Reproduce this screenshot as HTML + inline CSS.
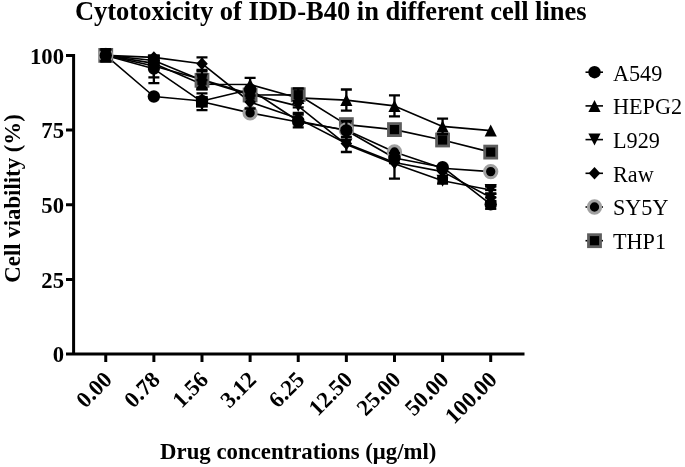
<!DOCTYPE html>
<html><head><meta charset="utf-8"><style>
html,body{margin:0;padding:0;background:#fff;}
svg{display:block;will-change:transform;}
.b{font-family:"Liberation Serif",serif;font-weight:bold;}
.r{font-family:"Liberation Serif",serif;}
</style></head><body>
<svg width="685" height="467" viewBox="0 0 685 467">
<rect width="685" height="467" fill="#fff"/>
<text x="74.9" y="19.7" class="b" font-size="26.5">Cytotoxicity of IDD-B40 in different cell lines</text>
<text x="160.1" y="458.7" class="b" font-size="22.8">Drug concentrations (μg/ml)</text>
<text transform="translate(19.6,282.7) rotate(-90)" class="b" font-size="22.8">Cell viability (%)</text>
<path d="M73.6 53.9V355.5M66 55.4H75M66 130.1H75M66 204.75H75M66 279.4H75M66 354.1H524.5" stroke="#000" stroke-width="3" fill="none"/>
<path d="M105.75 354V362" stroke="#000" stroke-width="3"/>
<path d="M153.87 354V362" stroke="#000" stroke-width="3"/>
<path d="M201.99 354V362" stroke="#000" stroke-width="3"/>
<path d="M250.11 354V362" stroke="#000" stroke-width="3"/>
<path d="M298.23 354V362" stroke="#000" stroke-width="3"/>
<path d="M346.35 354V362" stroke="#000" stroke-width="3"/>
<path d="M394.47 354V362" stroke="#000" stroke-width="3"/>
<path d="M442.59 354V362" stroke="#000" stroke-width="3"/>
<path d="M490.71 354V362" stroke="#000" stroke-width="3"/>
<text x="64" y="63.70" text-anchor="end" class="b" font-size="22.7">100</text>
<text x="64" y="138.40" text-anchor="end" class="b" font-size="22.7">75</text>
<text x="64" y="213.05" text-anchor="end" class="b" font-size="22.7">50</text>
<text x="64" y="287.70" text-anchor="end" class="b" font-size="22.7">25</text>
<text x="64" y="362.40" text-anchor="end" class="b" font-size="22.7">0</text>
<text transform="translate(113.25,381) rotate(-45)" text-anchor="end" class="b" font-size="22.7">0.00</text>
<text transform="translate(161.37,381) rotate(-45)" text-anchor="end" class="b" font-size="22.7">0.78</text>
<text transform="translate(209.49,381) rotate(-45)" text-anchor="end" class="b" font-size="22.7">1.56</text>
<text transform="translate(257.61,381) rotate(-45)" text-anchor="end" class="b" font-size="22.7">3.12</text>
<text transform="translate(305.73,381) rotate(-45)" text-anchor="end" class="b" font-size="22.7">6.25</text>
<text transform="translate(353.85,381) rotate(-45)" text-anchor="end" class="b" font-size="22.7">12.50</text>
<text transform="translate(401.97,381) rotate(-45)" text-anchor="end" class="b" font-size="22.7">25.00</text>
<text transform="translate(450.09,381) rotate(-45)" text-anchor="end" class="b" font-size="22.7">50.00</text>
<text transform="translate(498.21,381) rotate(-45)" text-anchor="end" class="b" font-size="22.7">100.00</text>
<polyline points="105.75,55.40 153.87,60.50 201.99,80.30 250.11,95.00 298.23,94.70 346.35,124.60 394.47,129.60 442.59,140.00 490.71,152.10" fill="none" stroke="#000" stroke-width="1.6" stroke-linejoin="round"/>
<polyline points="105.75,55.40 153.87,68.80 201.99,101.80 250.11,112.90 298.23,122.00 346.35,130.00 394.47,152.00 442.59,168.30 490.71,171.60" fill="none" stroke="#000" stroke-width="1.6" stroke-linejoin="round"/>
<polyline points="105.75,55.40 153.87,57.40 201.99,63.70 250.11,102.00 298.23,118.60 346.35,143.50 394.47,162.50 442.59,171.60 490.71,197.50" fill="none" stroke="#000" stroke-width="1.6" stroke-linejoin="round"/>
<polyline points="105.75,55.40 153.87,66.00 201.99,79.50 250.11,94.10 298.23,106.10 346.35,144.60 394.47,163.80 442.59,180.70 490.71,190.00" fill="none" stroke="#000" stroke-width="1.6" stroke-linejoin="round"/>
<polyline points="105.75,55.40 153.87,63.40 201.99,84.20 250.11,84.50 298.23,97.90 346.35,100.10 394.47,105.90 442.59,126.40 490.71,130.60" fill="none" stroke="#000" stroke-width="1.6" stroke-linejoin="round"/>
<polyline points="105.75,55.40 153.87,96.50 201.99,101.00 250.11,89.50 298.23,121.00 346.35,130.50 394.47,158.00 442.59,167.20 490.71,204.40" fill="none" stroke="#000" stroke-width="1.6" stroke-linejoin="round"/>
<rect x="99.75" y="49.40" width="12" height="12" fill="#000" stroke="#5e5e5e" stroke-width="2.8"/>
<rect x="147.87" y="54.50" width="12" height="12" fill="#000"/>
<rect x="195.99" y="74.30" width="12" height="12" fill="#000" stroke="#5e5e5e" stroke-width="2.8"/>
<rect x="244.11" y="89.00" width="12" height="12" fill="#000" stroke="#5e5e5e" stroke-width="2.8"/>
<rect x="292.23" y="88.70" width="12" height="12" fill="#000" stroke="#5e5e5e" stroke-width="2.8"/>
<rect x="340.35" y="118.60" width="12" height="12" fill="#000" stroke="#5e5e5e" stroke-width="2.8"/>
<rect x="388.47" y="123.60" width="12" height="12" fill="#000" stroke="#5e5e5e" stroke-width="2.8"/>
<rect x="436.59" y="134.00" width="12" height="12" fill="#000" stroke="#5e5e5e" stroke-width="2.8"/>
<rect x="484.71" y="146.10" width="12" height="12" fill="#000" stroke="#5e5e5e" stroke-width="2.8"/>
<circle cx="105.75" cy="55.40" r="6.15" fill="#000" stroke="#a0a0a0" stroke-width="3"/>
<circle cx="153.87" cy="68.80" r="6" fill="#000"/>
<circle cx="201.99" cy="101.80" r="6" fill="#000"/>
<circle cx="250.11" cy="112.90" r="6.15" fill="#000" stroke="#a0a0a0" stroke-width="3"/>
<circle cx="298.23" cy="122.00" r="6" fill="#000"/>
<circle cx="346.35" cy="130.00" r="6.15" fill="#000" stroke="#a0a0a0" stroke-width="3"/>
<circle cx="394.47" cy="152.00" r="6.15" fill="#000" stroke="#a0a0a0" stroke-width="3"/>
<circle cx="442.59" cy="168.30" r="6" fill="#000"/>
<circle cx="490.71" cy="171.60" r="6.15" fill="#000" stroke="#a0a0a0" stroke-width="3"/>
<path d="M105.75 49.20 L111.55 55.40 L105.75 61.60 L99.95 55.40Z" fill="#000"/>
<path d="M153.87 51.20 L159.67 57.40 L153.87 63.60 L148.07 57.40Z" fill="#000"/>
<path d="M201.99 57.50 L207.79 63.70 L201.99 69.90 L196.19 63.70Z" fill="#000"/>
<path d="M250.11 95.80 L255.91 102.00 L250.11 108.20 L244.31 102.00Z" fill="#000"/>
<path d="M298.23 112.40 L304.03 118.60 L298.23 124.80 L292.43 118.60Z" fill="#000"/>
<path d="M346.35 137.30 L352.15 143.50 L346.35 149.70 L340.55 143.50Z" fill="#000"/>
<path d="M394.47 156.30 L400.27 162.50 L394.47 168.70 L388.67 162.50Z" fill="#000"/>
<path d="M442.59 165.40 L448.39 171.60 L442.59 177.80 L436.79 171.60Z" fill="#000"/>
<path d="M490.71 191.30 L496.51 197.50 L490.71 203.70 L484.91 197.50Z" fill="#000"/>
<path d="M105.75 61.40 L111.85 49.40 L99.65 49.40Z" fill="#000"/>
<path d="M153.87 72.00 L159.97 60.00 L147.77 60.00Z" fill="#000"/>
<path d="M201.99 85.50 L208.09 73.50 L195.89 73.50Z" fill="#000"/>
<path d="M250.11 100.10 L256.21 88.10 L244.01 88.10Z" fill="#000"/>
<path d="M298.23 112.10 L304.33 100.10 L292.13 100.10Z" fill="#000"/>
<path d="M346.35 150.60 L352.45 138.60 L340.25 138.60Z" fill="#000"/>
<path d="M394.47 169.80 L400.57 157.80 L388.37 157.80Z" fill="#000"/>
<path d="M442.59 186.70 L448.69 174.70 L436.49 174.70Z" fill="#000"/>
<path d="M490.71 196.00 L496.81 184.00 L484.61 184.00Z" fill="#000"/>
<path d="M105.75 49.40 L111.85 61.40 L99.65 61.40Z" fill="#000"/>
<path d="M153.87 57.40 L159.97 69.40 L147.77 69.40Z" fill="#000"/>
<path d="M201.99 78.20 L208.09 90.20 L195.89 90.20Z" fill="#000"/>
<path d="M250.11 78.50 L256.21 90.50 L244.01 90.50Z" fill="#000"/>
<path d="M298.23 91.90 L304.33 103.90 L292.13 103.90Z" fill="#000"/>
<path d="M346.35 94.10 L352.45 106.10 L340.25 106.10Z" fill="#000"/>
<path d="M394.47 99.90 L400.57 111.90 L388.37 111.90Z" fill="#000"/>
<path d="M442.59 120.40 L448.69 132.40 L436.49 132.40Z" fill="#000"/>
<path d="M490.71 124.60 L496.81 136.60 L484.61 136.60Z" fill="#000"/>
<circle cx="105.75" cy="55.40" r="6.2" fill="#000"/>
<circle cx="153.87" cy="96.50" r="6.2" fill="#000"/>
<circle cx="201.99" cy="101.00" r="6.2" fill="#000"/>
<circle cx="250.11" cy="89.50" r="6.2" fill="#000"/>
<circle cx="298.23" cy="121.00" r="6.2" fill="#000"/>
<circle cx="346.35" cy="130.50" r="6.2" fill="#000"/>
<circle cx="394.47" cy="158.00" r="6.2" fill="#000"/>
<circle cx="442.59" cy="167.20" r="6.2" fill="#000"/>
<circle cx="490.71" cy="204.40" r="6.2" fill="#000"/>
<path d="M201.99 71.30V89.30M196.49 71.30H207.49M196.49 89.30H207.49" stroke="#000" stroke-width="2.3" fill="none"/>
<path d="M346.35 121.10V128.10M340.85 121.10H351.85M340.85 128.10H351.85" stroke="#000" stroke-width="2.3" fill="none"/>
<path d="M153.87 55.60V83.20M148.37 55.60H159.37M148.37 83.20H159.37" stroke="#000" stroke-width="2.3" fill="none"/>
<path d="M201.99 93.40V110.20M196.49 93.40H207.49M196.49 110.20H207.49" stroke="#000" stroke-width="2.3" fill="none"/>
<path d="M201.99 57.40V70.00M196.49 57.40H207.49M196.49 70.00H207.49" stroke="#000" stroke-width="2.3" fill="none"/>
<path d="M250.11 95.50V108.50M244.61 95.50H255.61M244.61 108.50H255.61" stroke="#000" stroke-width="2.3" fill="none"/>
<path d="M298.23 113.00V124.20M292.73 113.00H303.73M292.73 124.20H303.73" stroke="#000" stroke-width="2.3" fill="none"/>
<path d="M490.71 193.80V201.20M485.21 193.80H496.21M485.21 201.20H496.21" stroke="#000" stroke-width="2.3" fill="none"/>
<path d="M105.75 49.10V61.70M100.25 49.10H111.25M100.25 61.70H111.25" stroke="#000" stroke-width="2.3" fill="none"/>
<path d="M153.87 66.00V77.40M148.37 77.40H159.37" stroke="#000" stroke-width="2.3" fill="none"/>
<path d="M346.35 137.20V152.00M340.85 137.20H351.85M340.85 152.00H351.85" stroke="#000" stroke-width="2.3" fill="none"/>
<path d="M394.47 163.80V178.70M388.97 178.70H399.97" stroke="#000" stroke-width="2.3" fill="none"/>
<path d="M442.59 177.70V183.70M437.09 177.70H448.09M437.09 183.70H448.09" stroke="#000" stroke-width="2.3" fill="none"/>
<path d="M490.71 186.30V193.70M485.21 186.30H496.21M485.21 193.70H496.21" stroke="#000" stroke-width="2.3" fill="none"/>
<path d="M153.87 63.40V63.40" stroke="#000" stroke-width="2.3" fill="none"/>
<path d="M201.99 80.20V88.20M196.49 80.20H207.49M196.49 88.20H207.49" stroke="#000" stroke-width="2.3" fill="none"/>
<path d="M250.11 77.80V91.20M244.61 77.80H255.61M244.61 91.20H255.61" stroke="#000" stroke-width="2.3" fill="none"/>
<path d="M298.23 88.50V107.30M292.73 88.50H303.73M292.73 107.30H303.73" stroke="#000" stroke-width="2.3" fill="none"/>
<path d="M346.35 89.50V110.70M340.85 89.50H351.85M340.85 110.70H351.85" stroke="#000" stroke-width="2.3" fill="none"/>
<path d="M394.47 95.40V116.40M388.97 95.40H399.97M388.97 116.40H399.97" stroke="#000" stroke-width="2.3" fill="none"/>
<path d="M442.59 118.60V134.20M437.09 118.60H448.09M437.09 134.20H448.09" stroke="#000" stroke-width="2.3" fill="none"/>
<path d="M298.23 114.70V127.30M292.73 114.70H303.73M292.73 127.30H303.73" stroke="#000" stroke-width="2.3" fill="none"/>
<path d="M394.47 153.00V163.00M388.97 153.00H399.97M388.97 163.00H399.97" stroke="#000" stroke-width="2.3" fill="none"/>
<rect x="196" y="96.1" width="11.8" height="11.5" fill="#000"/>
<rect x="437.4" y="177.9" width="10.6" height="5.9" fill="#000"/>
<path d="M485.11 186.3H496.31" stroke="#000" stroke-width="2.3"/>
<path d="M485.11 190.0H496.31" stroke="#000" stroke-width="2.3"/>
<path d="M485.11 193.7H496.31" stroke="#000" stroke-width="2.3"/>
<path d="M485.11 197.4H496.31" stroke="#000" stroke-width="2.3"/>
<path d="M485.11 201.0H496.31" stroke="#000" stroke-width="2.3"/>
<path d="M485.11 208.8H496.31" stroke="#000" stroke-width="2.3"/>
<path d="M490.71 186V209" stroke="#000" stroke-width="3"/>
<path d="M585.5 72.20H603" stroke="#000" stroke-width="1.6"/>
<circle cx="594.50" cy="72.20" r="6.2" fill="#000"/>
<text x="613" y="80.50" class="r" font-size="22.2">A549</text>
<path d="M585.5 105.90H603" stroke="#000" stroke-width="1.6"/>
<path d="M594.50 99.90 L600.60 111.90 L588.40 111.90Z" fill="#000"/>
<text x="613" y="114.20" class="r" font-size="22.2">HEPG2</text>
<path d="M585.5 139.60H603" stroke="#000" stroke-width="1.6"/>
<path d="M594.50 145.60 L600.60 133.60 L588.40 133.60Z" fill="#000"/>
<text x="613" y="147.90" class="r" font-size="22.2">L929</text>
<path d="M585.5 173.30H603" stroke="#000" stroke-width="1.6"/>
<path d="M594.50 167.10 L600.30 173.30 L594.50 179.50 L588.70 173.30Z" fill="#000"/>
<text x="613" y="181.60" class="r" font-size="22.2">Raw</text>
<path d="M585.5 207.00H603" stroke="#000" stroke-width="1.6"/>
<circle cx="594.50" cy="207.00" r="6.15" fill="#000" stroke="#a0a0a0" stroke-width="3"/>
<text x="613" y="215.30" class="r" font-size="22.2">SY5Y</text>
<path d="M585.5 240.70H603" stroke="#000" stroke-width="1.6"/>
<rect x="588.50" y="234.70" width="12" height="12" fill="#000" stroke="#5e5e5e" stroke-width="2.8"/>
<text x="613" y="249.00" class="r" font-size="22.2">THP1</text>
</svg>
</body></html>
